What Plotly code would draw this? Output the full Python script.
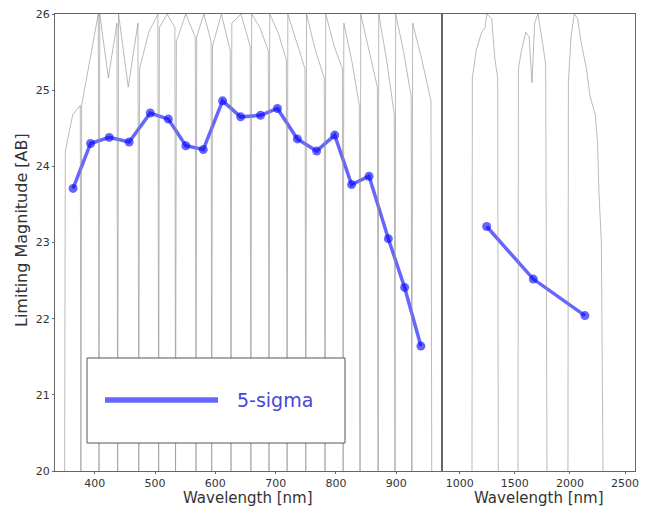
import plotly.graph_objects as go

# ---------------- data ----------------
# 5-sigma limiting magnitudes, optical (medium-band) filters
opt_wave = [364, 393, 424, 457, 492, 522, 551, 580, 612, 642,
            675, 703, 736, 768, 798, 826, 855, 887, 914, 941]
opt_mag = [23.71, 24.30, 24.38, 24.32, 24.70, 24.62, 24.27, 24.22, 24.86, 24.65,
           24.67, 24.76, 24.36, 24.20, 24.41, 23.76, 23.87, 23.05, 22.41, 21.64]

# near-IR (J, H, K)
nir_wave = [1245, 1668, 2136]
nir_mag = [23.21, 22.52, 22.04]

# optical filter transmission curves (edges in nm, relative transmission)
filt_lo = [350, 377, 407, 438, 473, 506, 534, 568, 594, 626,
           659, 689, 719, 750, 782, 812, 840, 870, 898, 926]
filt_hi = [377, 407, 438, 473, 506, 534, 568, 594, 626, 659,
           689, 719, 750, 782, 812, 840, 870, 898, 926, 959]
filt_t_left = [0.70, 0.80, 1.00, 1.00, 0.88, 0.97, 0.94, 0.95, 0.93, 0.98,
               1.00, 1.00, 1.00, 1.00, 1.00, 0.98, 1.00, 1.00, 1.00, 0.98]
filt_t_mid = [0.78, 0.90, 0.86, 0.84, 0.96, 1.00, 1.00, 1.00, 1.00, 1.00,
              0.97, 0.96, 0.94, 0.92, 0.93, 0.90, 0.92, 0.90, 0.92, 0.90]
filt_t_right = [0.80, 1.00, 0.98, 0.98, 1.00, 0.97, 0.95, 0.94, 0.92, 0.93,
                0.92, 0.90, 0.88, 0.86, 0.88, 0.80, 0.84, 0.78, 0.82, 0.81]

# near-IR filter transmission curves
j_wave = [1112, 1115, 1150, 1200, 1230, 1246, 1290, 1320, 1345, 1350]
j_trans = [0.0, 0.86, 0.92, 0.96, 0.97, 1.00, 0.99, 0.90, 0.86, 0.0]
h_wave = [1529, 1533, 1560, 1600, 1630, 1656, 1680, 1710, 1750, 1780, 1792]
h_trans = [0.0, 0.88, 0.92, 0.96, 0.95, 0.85, 0.98, 1.00, 0.94, 0.89, 0.0]
k_wave = [1982, 1986, 2010, 2040, 2070, 2100, 2150, 2182, 2230, 2250, 2263, 2285, 2300]
k_trans = [0.0, 0.85, 0.95, 1.00, 0.99, 0.94, 0.88, 0.82, 0.78, 0.72, 0.61, 0.50, 0.0]

y_ticks = [20, 21, 22, 23, 24, 25, 26]
x1_ticks = [400, 500, 600, 700, 800, 900]
x2_ticks = [1000, 1500, 2000, 2500]

# ---------------- styles ----------------
FONT = "DejaVu Sans"
GRAY = "rgba(140,140,140,0.6)"
BLUE = "rgba(0,0,255,0.6)"
FRAME = "#666666"
TXT = "#333333"

W, H = 645, 506
ML, MR, MT, MB = 55, 10, 14, 35
PW, PH = W - ML - MR, H - MT - MB

fig = go.Figure()

# optical filter curves
for lo, hi, tl, tm, tr in zip(filt_lo, filt_hi, filt_t_left, filt_t_mid, filt_t_right):
    w = hi - lo
    xs = [lo, lo + 0.04 * w, lo + 0.5 * w, hi - 0.04 * w, hi]
    ys = [0.0, tl, tm, tr, 0.0]
    fig.add_trace(go.Scatter(x=xs, y=ys, mode="lines", xaxis="x", yaxis="y3",
                             line=dict(color=GRAY, width=1), showlegend=False,
                             hoverinfo="skip"))

# NIR filter curves
for wv, tr in [(j_wave, j_trans), (h_wave, h_trans), (k_wave, k_trans)]:
    fig.add_trace(go.Scatter(x=wv, y=tr, mode="lines", xaxis="x2", yaxis="y4",
                             line=dict(color=GRAY, width=1), showlegend=False,
                             hoverinfo="skip"))

# limiting magnitudes
fig.add_trace(go.Scatter(x=opt_wave, y=opt_mag, mode="lines+markers", xaxis="x", yaxis="y",
                         line=dict(color=BLUE, width=3.5),
                         marker=dict(color=BLUE, size=9), name="5-sigma", showlegend=False))
fig.add_trace(go.Scatter(x=nir_wave, y=nir_mag, mode="lines+markers", xaxis="x2", yaxis="y2",
                         line=dict(color=BLUE, width=3.5),
                         marker=dict(color=BLUE, size=9), name="5-sigma", showlegend=False))

split = (442 - ML) / PW

axis_common = dict(showline=True, linecolor=FRAME, linewidth=1, mirror=True,
                   showgrid=False, zeroline=False, ticks="outside", ticklen=2,
                   tickcolor=FRAME, automargin=False,
                   tickfont=dict(family=FONT, size=11, color=TXT))

fig.update_layout(
    width=W, height=H,
    margin=dict(l=ML, r=MR, t=MT, b=MB, autoexpand=False),
    paper_bgcolor="white", plot_bgcolor="white",
    showlegend=False,
    xaxis=dict(domain=[0, split], range=[334, 976], tickvals=x1_ticks,
               anchor="y", **axis_common),
    xaxis2=dict(domain=[split, 1], range=[840, 2590], tickvals=x2_ticks,
                anchor="y2", **axis_common),
    yaxis=dict(range=[20, 26], tickvals=y_ticks, anchor="x", **axis_common),
    yaxis2=dict(range=[20, 26], anchor="x2", matches="y",
                showline=True, linecolor=FRAME, linewidth=1, mirror=True,
                showgrid=False, zeroline=False, showticklabels=False, ticks=""),
    yaxis3=dict(range=[0, 1], overlaying="y", anchor="x", visible=False),
    yaxis4=dict(range=[0, 1], overlaying="y2", anchor="x2", visible=False),
)

# axis titles
title_font = dict(family=FONT, size=15, color=TXT)
fig.add_annotation(xref="paper", yref="paper", x=split / 2, y=-(498 - (H - MB)) / PH,
                   text="Wavelength [nm]", showarrow=False, xanchor="center",
                   yanchor="middle", font=title_font)
fig.add_annotation(xref="paper", yref="paper", x=(split + 1) / 2, y=-(498 - (H - MB)) / PH,
                   text="Wavelength [nm]", showarrow=False, xanchor="center",
                   yanchor="middle", font=title_font)
fig.add_annotation(xref="paper", yref="paper", x=-(ML - 21) / PW, y=(H - MB - 230) / PH,
                   text="Limiting Magnitude [AB]", showarrow=False, textangle=-90,
                   xanchor="center", yanchor="middle",
                   font=dict(family=FONT, size=16, color=TXT))

# legend box drawn like the reference's large matplotlib legend
lx0, lx1 = (87 - ML) / PW, (345 - ML) / PW
ly0, ly1 = (H - MB - 443) / PH, (H - MB - 358) / PH
lyc = (H - MB - 400) / PH
fig.add_shape(type="rect", xref="paper", yref="paper", x0=lx0, x1=lx1, y0=ly0, y1=ly1,
              line=dict(color="#555555", width=1), fillcolor="white", layer="above")
fig.add_shape(type="line", xref="paper", yref="paper",
              x0=(105 - ML) / PW, x1=(218 - ML) / PW, y0=lyc, y1=lyc,
              line=dict(color=BLUE, width=5.5), layer="above")
fig.add_annotation(xref="paper", yref="paper", x=(235 - ML) / PW, y=lyc,
                   xanchor="left", yanchor="middle", showarrow=False,
                   text="5-sigma", font=dict(family=FONT, size=19, color="rgb(70,70,220)"))

fig.write_html("out.html", config={"displayModeBar": False},
               post_script="document.body.style.margin='0';document.body.style.padding='0';")
